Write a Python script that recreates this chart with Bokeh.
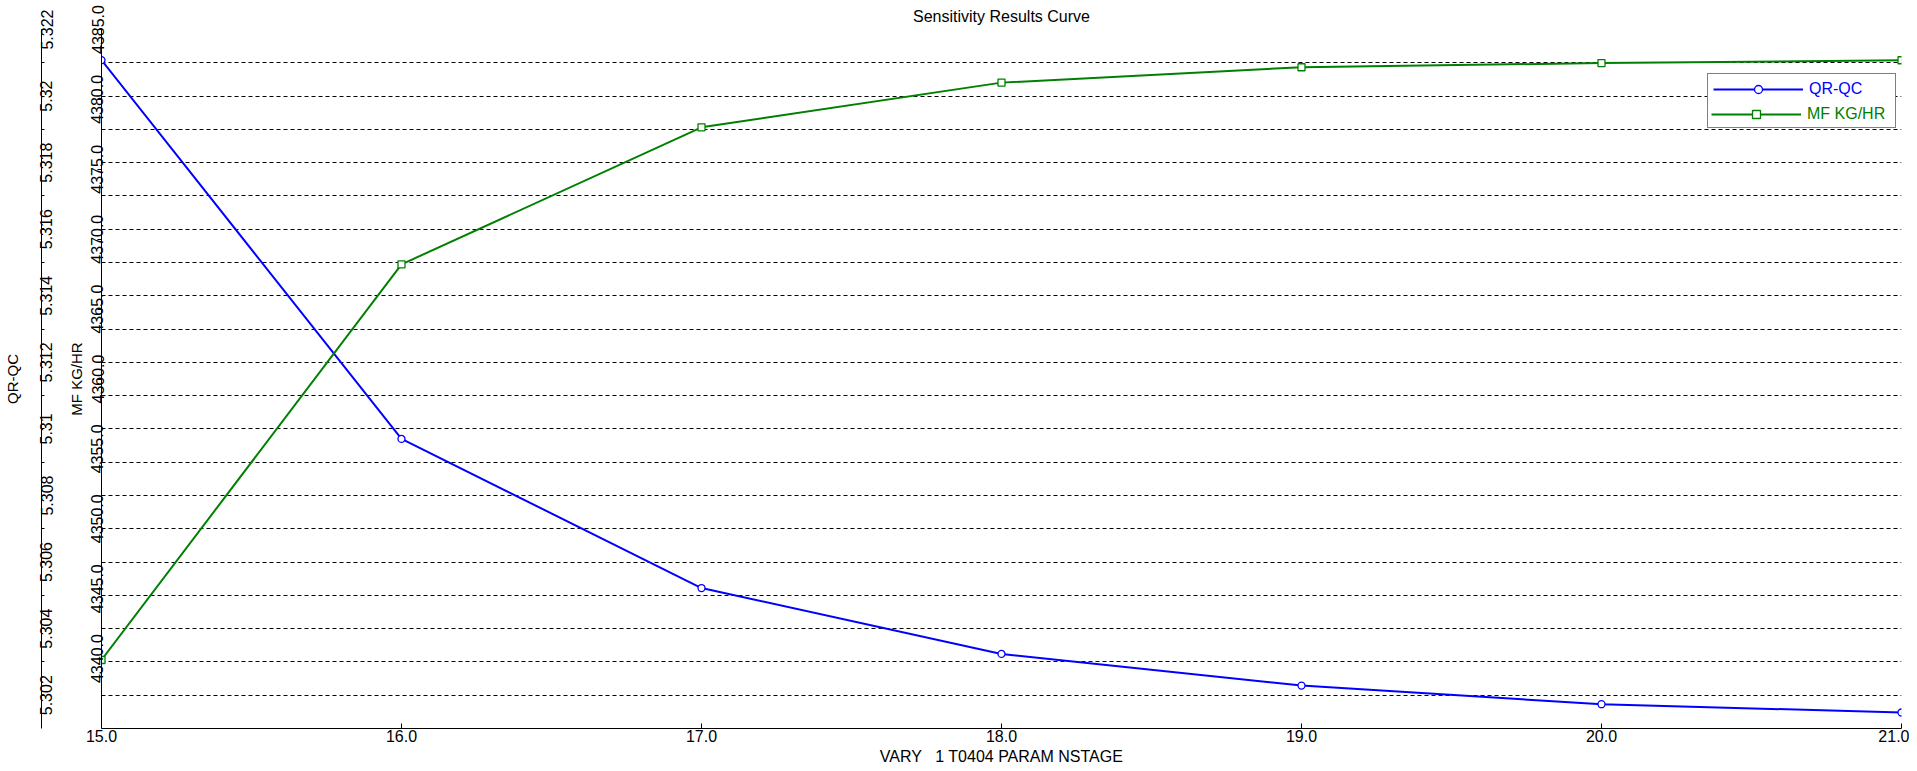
from bokeh.plotting import figure
from bokeh.models import (Range1d, LinearAxis, FixedTicker, PrintfTickFormatter,
                          CustomJSTickFormatter, Grid, Legend, LegendItem, Title)
from bokeh.embed import file_html
from bokeh.resources import INLINE

# ---------------- data ----------------
stages = [15, 16, 17, 18, 19, 20, 21]
qr_qc = [5.32108, 5.30970, 5.30522, 5.30324, 5.30229, 5.30173, 5.30148]
mf_kghr = [4339.9, 4368.2, 4378.0, 4381.2, 4382.3, 4382.6, 4382.8]

x_ticks = [15, 16, 17, 18, 19, 20, 21]
qr_ticks = [5.302, 5.303, 5.304, 5.305, 5.306, 5.307, 5.308, 5.309, 5.310, 5.311,
            5.312, 5.313, 5.314, 5.315, 5.316, 5.317, 5.318, 5.319, 5.320, 5.321, 5.322]
mf_ticks = [4340, 4345, 4350, 4355, 4360, 4365, 4370, 4375, 4380, 4385]

title_text = "Sensitivity Results Curve"
x_label = "VARY\u00a0\u00a0\u00a01 T0404 PARAM NSTAGE"
qr_label = "QR-QC"
mf_label = "MF KG/HR"

FONT = "Liberation Sans"
BLUE = "#0000FF"
GREEN = "#008000"

p = figure(frame_width=1800, frame_height=699,
           output_backend="svg", toolbar_location=None,
           x_range=Range1d(x_ticks[0], x_ticks[-1]), y_range=Range1d(5.301, 5.322),
           y_axis_location=None, min_border=0, min_border_left=95,
           min_border_right=8, min_border_top=21, min_border_bottom=0)
p.extra_y_ranges = {"mf": Range1d(4335, 4385)}
p.outline_line_color = None
p.background_fill_color = "white"
p.border_fill_color = "white"

# title
p.title.text = title_text
p.title.align = "center"
p.title.text_font = FONT
p.title.text_font_size = "16px"
p.title.text_font_style = "normal"
p.title.text_color = "black"
p.title.standoff = 10

# grids
p.xgrid.visible = False
for g in p.ygrid:
    g.visible = False
qr_ticker = FixedTicker(ticks=qr_ticks)
grid = Grid(dimension=1, ticker=qr_ticker, grid_line_color="black",
            grid_line_dash="4 3", grid_line_width=1)
p.add_layout(grid)

# x axis
xa = p.xaxis[0]
xa.ticker = FixedTicker(ticks=x_ticks)
xa.formatter = PrintfTickFormatter(format="%.1f")
xa.major_tick_in = 5
xa.major_tick_out = 0
xa.minor_tick_line_color = None
xa.major_label_standoff = 1
xa.major_label_text_font = FONT
xa.major_label_text_font_size = "16px"
xa.major_label_text_color = "black"
xa.axis_line_color = "black"
xa.major_tick_line_color = "black"

# x axis title, in its own panel below the axis
x_title = Title(text=x_label, align="center", text_font=FONT, text_font_size="16px",
                text_font_style="normal", text_color="black", standoff=2)
p.add_layout(x_title, "below")

# inner y axis (MF)
mf_axis = LinearAxis(y_range_name="mf", ticker=FixedTicker(ticks=mf_ticks),
                     formatter=PrintfTickFormatter(format="%.1f"))
mf_axis.major_tick_in = 0
mf_axis.major_tick_out = 4
mf_axis.minor_tick_line_color = None
mf_axis.major_label_orientation = "vertical"
mf_axis.major_label_standoff = -6
mf_axis.major_label_text_font = FONT
mf_axis.major_label_text_font_size = "16px"
mf_axis.major_label_text_color = "black"
mf_axis.axis_label = mf_label
mf_axis.axis_label_text_font = FONT
mf_axis.axis_label_text_font_size = "15px"
mf_axis.axis_label_text_font_style = "normal"
mf_axis.axis_label_text_color = "black"
mf_axis.axis_label_standoff = 4
mf_axis.axis_line_color = "black"
mf_axis.major_tick_line_color = "black"
p.add_layout(mf_axis, "left")

# spacer axis (empty) between the two axes
spacer = LinearAxis(ticker=FixedTicker(ticks=[]), axis_line_color=None,
                    major_tick_line_color=None, minor_tick_line_color=None,
                    major_tick_in=0, major_tick_out=0, major_label_standoff=0,
                    axis_label="|", axis_label_text_alpha=0,
                    axis_label_text_font_size="12px", axis_label_standoff=6)
p.add_layout(spacer, "left")

# outer y axis (QR-QC)
qr_axis = LinearAxis(ticker=qr_ticker,
                     formatter=CustomJSTickFormatter(code="""
                         const k = Math.round(tick * 1000);
                         if (k % 2 !== 0) { return ""; }
                         return String(parseFloat(tick.toFixed(3)));
                     """))
qr_axis.major_tick_in = 3
qr_axis.major_tick_out = 0
qr_axis.minor_tick_line_color = None
qr_axis.major_label_orientation = "vertical"
qr_axis.major_label_standoff = -11
qr_axis.major_label_text_font = FONT
qr_axis.major_label_text_font_size = "16px"
qr_axis.major_label_text_color = "black"
qr_axis.axis_label = qr_label
qr_axis.axis_label_text_font = FONT
qr_axis.axis_label_text_font_size = "15px"
qr_axis.axis_label_text_font_style = "normal"
qr_axis.axis_label_text_color = "black"
qr_axis.axis_label_standoff = 17
qr_axis.axis_line_color = "black"
qr_axis.major_tick_line_color = "black"
p.add_layout(qr_axis, "left")

# series
qr_line = p.line(stages, qr_qc, line_color=BLUE, line_width=2)
qr_pts = p.scatter(stages, qr_qc, marker="circle", size=7, line_color=BLUE,
                   line_width=1.3, fill_color="white")
mf_line = p.line(stages, mf_kghr, line_color=GREEN, line_width=2, y_range_name="mf")
mf_pts = p.scatter(stages, mf_kghr, marker="square", size=7, line_color=GREEN,
                   line_width=1.3, fill_color="white", y_range_name="mf")

def style_legend(lg, color):
    lg.label_text_font = FONT
    lg.label_text_font_size = "16px"
    lg.label_text_color = color
    lg.glyph_width = 90
    lg.glyph_height = 20
    lg.label_height = 20
    lg.label_width = 81
    lg.label_standoff = 6
    lg.spacing = 3
    lg.margin = 0
    lg.background_fill_color = "white"
    lg.background_fill_alpha = 1.0

legend1 = Legend(items=[LegendItem(label=qr_label, renderers=[qr_line, qr_pts]),
                        LegendItem(label=mf_label, renderers=[mf_line, mf_pts])],
                 location=(1606, 600))
style_legend(legend1, BLUE)
legend1.padding = 5
legend1.border_line_color = "black"
legend1.border_line_width = 1
p.add_layout(legend1)

legend2 = Legend(items=[LegendItem(label=mf_label, renderers=[mf_line, mf_pts])],
                 location=(1610, 604))
style_legend(legend2, GREEN)
legend2.padding = 1
legend2.border_line_color = None
p.add_layout(legend2)

open("out.html", "w").write(file_html(p, INLINE))
